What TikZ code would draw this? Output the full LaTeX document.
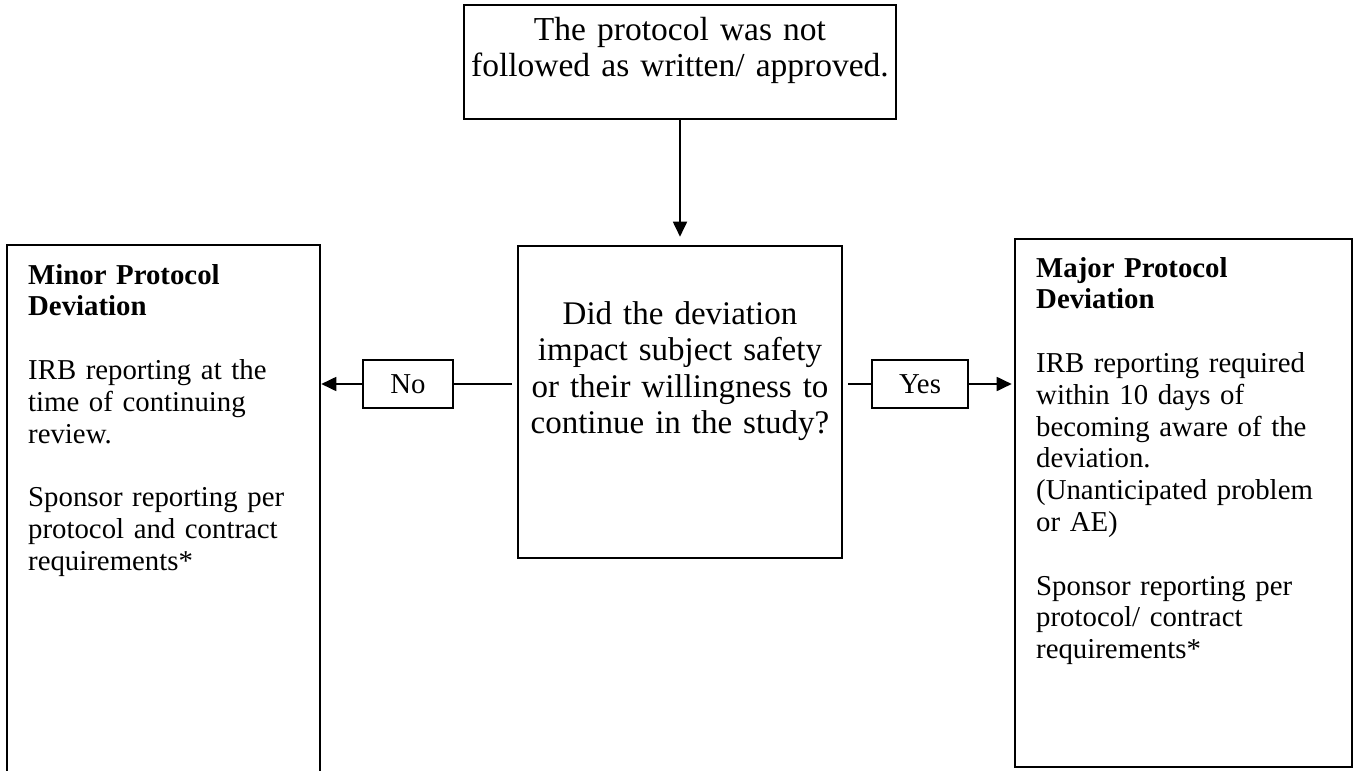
\documentclass[tikz,border=0pt]{standalone}
\usepackage{fontspec}
\setmainfont{Liberation Serif}
\usetikzlibrary{arrows.meta}
\begin{document}
\begin{tikzpicture}[x=1pt,y=-1pt,
  box/.style={draw, line width=2.6pt, inner sep=0pt},
  tag/.style={draw, line width=2.4pt, inner sep=0pt, minimum height=48pt,
    font=\fontsize{28.8}{31.8}\selectfont},
  conn/.style={line width=1.8pt},
  arr/.style={conn, -{Triangle[length=15pt,width=14pt]}},
  side/.style={inner sep=0pt, anchor=base west, text width=300pt, align=left,
    font=\fontsize{28.8}{31.8}\selectfont},
  mid/.style={inner sep=0pt, anchor=base, text width=425pt, align=center},
]
\useasboundingbox (0,0) rectangle (1353,771);
\clip (0,0) rectangle (1353,771);

% frames
\node[box, minimum width=432pt, minimum height=114pt] (start) at (680,62) {};
\node[box, minimum width=324pt, minimum height=312pt] (question) at (680,402) {};
\node[box, minimum width=313pt, minimum height=655pt] (minor) at (163.5,572.5) {};
\node[box, minimum width=337pt, minimum height=528pt] (major) at (1183.5,503) {};

% answer tags
\node[tag, minimum width=90pt] (no) at (408,384) {No};
\node[tag, minimum width=96pt] (yes) at (920,384) {Yes};

% texts
\node[mid, font=\fontsize{33.5}{36.5}\selectfont] (starttext) at (680,40)
  {The protocol was not\\followed as written/ approved.};
\node[mid, text width=320pt, font=\fontsize{33}{36.5}\selectfont] (questiontext) at (680,324)
  {Did the deviation\\impact subject safety\\or their willingness to\\continue in the study?};
\node[side] (minortext) at (28,284)
  {\textbf{Minor Protocol}\\\textbf{Deviation}\\[31.8pt]
   IRB reporting at the\\time of continuing\\review.\\[31.8pt]
   Sponsor reporting per\\protocol and contract\\requirements*};
\node[side] (majortext) at (1036,277)
  {\textbf{Major Protocol}\\\textbf{Deviation}\\[31.8pt]
   IRB reporting required\\within 10 days of\\becoming aware of the\\deviation.\\(Unanticipated problem\\or AE)\\[31.8pt]
   Sponsor reporting per\\protocol/ contract\\requirements*};

% connectors
\draw[arr, shorten >=8pt] (start.south) -- (question.north);
\draw[conn, shorten >=5pt] (no.east) -- (question.west |- no.east);
\draw[arr] (no.west) -- (minor.east |- no.west);
\draw[conn, shorten >=5pt] (yes.west) -- (question.east |- yes.west);
\draw[arr, shorten >=2pt] (yes.east) -- (major.west |- yes.east);
\end{tikzpicture}
\end{document}
